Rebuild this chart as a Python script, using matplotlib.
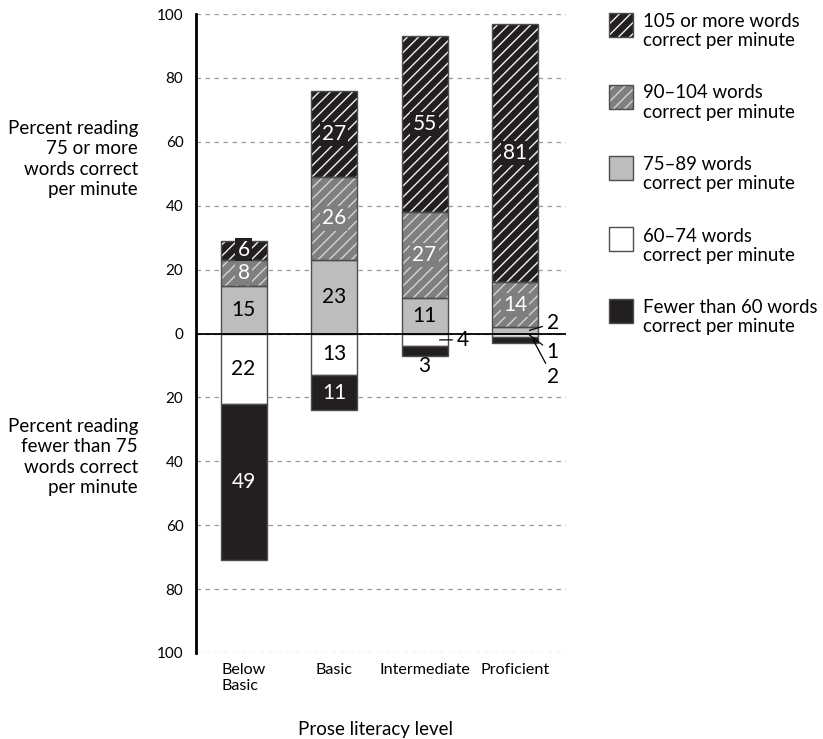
import matplotlib
matplotlib.use('Agg')
import matplotlib.pyplot as plt
from matplotlib.patches import Rectangle
import numpy as np

plt.rcParams['font.family'] = ['Lato', 'DejaVu Sans']
plt.rcParams['hatch.linewidth'] = 1.0

# ---------------- data ----------------
levels = ['Below\nBasic', 'Basic', 'Intermediate', 'Proficient']
series_names = ['105 or more words\ncorrect per minute',
                '90–104 words\ncorrect per minute',
                '75–89 words\ncorrect per minute',
                '60–74 words\ncorrect per minute',
                'Fewer than 60 words\ncorrect per minute']
wcpm_105_plus = [6, 27, 55, 81]
wcpm_90_104 = [8, 26, 27, 14]
wcpm_75_89 = [15, 23, 11, 2]
wcpm_60_74 = [22, 13, 4, 1]
wcpm_under_60 = [49, 11, 3, 2]
ytick_values = [-100, -80, -60, -40, -20, 0, 20, 40, 60, 80, 100]
ytick_labels = [str(abs(v)) for v in ytick_values]

# ---------------- styles ----------------
DARK = '#231f20'
styles = [
    dict(face=DARK, hatch='///', hcol='#f0f0f0', tcol='white'),
    dict(face='#7f7f7f', hatch='///', hcol='#d4d4d4', tcol='white'),
    dict(face='#bdbdbd', hatch=None, hcol=None, tcol='black'),
    dict(face='white', hatch=None, hcol=None, tcol='black'),
    dict(face=DARK, hatch=None, hcol=None, tcol='white'),
]
EDGE = '#4d4d4d'

W, H = 823, 739
fig = plt.figure(figsize=(W / 100, H / 100), dpi=100)

def fx(px):
    return px / W

def fy(py):
    return 1 - py / H

ax = fig.add_axes([fx(196), fy(653), fx(566) - fx(196), fy(14) - fy(653)])

x = np.arange(len(levels))
bw = 0.508

v105 = np.array(wcpm_105_plus, float)
v90 = np.array(wcpm_90_104, float)
v75 = np.array(wcpm_75_89, float)
v60 = np.array(wcpm_60_74, float)
vlo = np.array(wcpm_under_60, float)

segments = [
    (v105, v75 + v90),   # values, bottom
    (v90, v75),
    (v75, np.zeros_like(v75)),
    (-v60, np.zeros_like(v60)),
    (-vlo, -v60),
]

for (vals, bottoms), st in zip(segments, styles):
    if st['hatch']:
        ax.bar(x, vals, bw, bottom=bottoms, color=st['face'], edgecolor=st['hcol'],
               hatch=st['hatch'], linewidth=0, zorder=2)
        ax.bar(x, vals, bw, bottom=bottoms, fill=False, edgecolor=EDGE,
               linewidth=1.0, zorder=2.5)
    else:
        ax.bar(x, vals, bw, bottom=bottoms, color=st['face'], edgecolor=EDGE,
               linewidth=1.0, zorder=2)

# inside labels
for (vals, bottoms), st in zip(segments, styles):
    for i in range(len(x)):
        v = vals[i]
        if abs(v) < 5:
            continue
        yc = bottoms[i] + v / 2
        ax.text(x[i], yc, f'{abs(v):.0f}', ha='center', va='center', fontsize=15,
                color=st['tcol'], zorder=5,
                bbox=dict(facecolor=st['face'], edgecolor='none', pad=1.5))

# small outside labels with leader lines
small = [
    (3, 2, 0.166, (16.6, 0.0), True),
    (4, 2, 0.0, (0.0, -10.4), False),
    (2, 3, 0.16, (16.6, 4.9), True),
    (3, 3, 0.16, (16.6, -12.5), True),
    (4, 3, 0.20, (14.4, -27.0), True),
]
for si, li, dxa, off, line in small:
    vals, bottoms = segments[si]
    v = vals[li]
    yc = bottoms[li] + v / 2
    ap = dict(arrowstyle='-', color='black', lw=0.9, shrinkA=1, shrinkB=0) if line else None
    ax.annotate(f'{abs(v):.0f}', xy=(x[li] + dxa, yc), xytext=off,
                textcoords='offset points', ha='center', va='center', fontsize=15,
                color='black', arrowprops=ap, zorder=6, annotation_clip=False)

# axes styling
ax.set_xlim(-0.525, 3.563)
ax.set_ylim(-100, 100)
ax.set_yticks(ytick_values)
ax.set_yticklabels(ytick_labels, fontsize=11)
ax.set_xticks(x)
ax.set_xticklabels(levels, fontsize=11.6, multialignment='left')
ax.tick_params(axis='y', length=0, pad=9)
ax.tick_params(axis='x', length=0, pad=7)
ax.yaxis.grid(True, color='#9a9a9a', linestyle=(0, (3.6, 3.6)), linewidth=0.9)
ax.set_axisbelow(True)
for s in ['top', 'right', 'bottom']:
    ax.spines[s].set_visible(False)
ax.spines['left'].set_linewidth(2.0)
ax.spines['left'].set_color('black')
ax.axhline(0, color='black', lw=1.3, zorder=4)

# side labels
fig.text(fx(138), fy(159), 'Percent reading\n75 or more\nwords correct\nper minute',
         ha='right', va='center', fontsize=13.5, linespacing=1.24)
fig.text(fx(138), fy(457), 'Percent reading\nfewer than 75\nwords correct\nper minute',
         ha='right', va='center', fontsize=13.5, linespacing=1.24)
fig.text(fx(376), fy(729), 'Prose literacy level', ha='center', va='center', fontsize=13.5)

# legend (manual)
for k, (name, st) in enumerate(zip(series_names, styles)):
    top = 13 + k * 71.5
    r = Rectangle((fx(609), fy(top + 24)), fx(24), fy(top) - fy(top + 24),
                  transform=fig.transFigure, facecolor=st['face'],
                  edgecolor=st['hcol'] if st['hatch'] else EDGE,
                  hatch=st['hatch'], linewidth=0 if st['hatch'] else 1.0)
    fig.add_artist(r)
    if st['hatch']:
        fig.add_artist(Rectangle((fx(609), fy(top + 24)), fx(24), fy(top) - fy(top + 24),
                                 transform=fig.transFigure, fill=False,
                                 edgecolor=EDGE, linewidth=1.0))
    fig.text(fx(643), fy(top), name, ha='left', va='top', fontsize=13.4,
             linespacing=1.15)

fig.savefig('out.png', dpi=100)
